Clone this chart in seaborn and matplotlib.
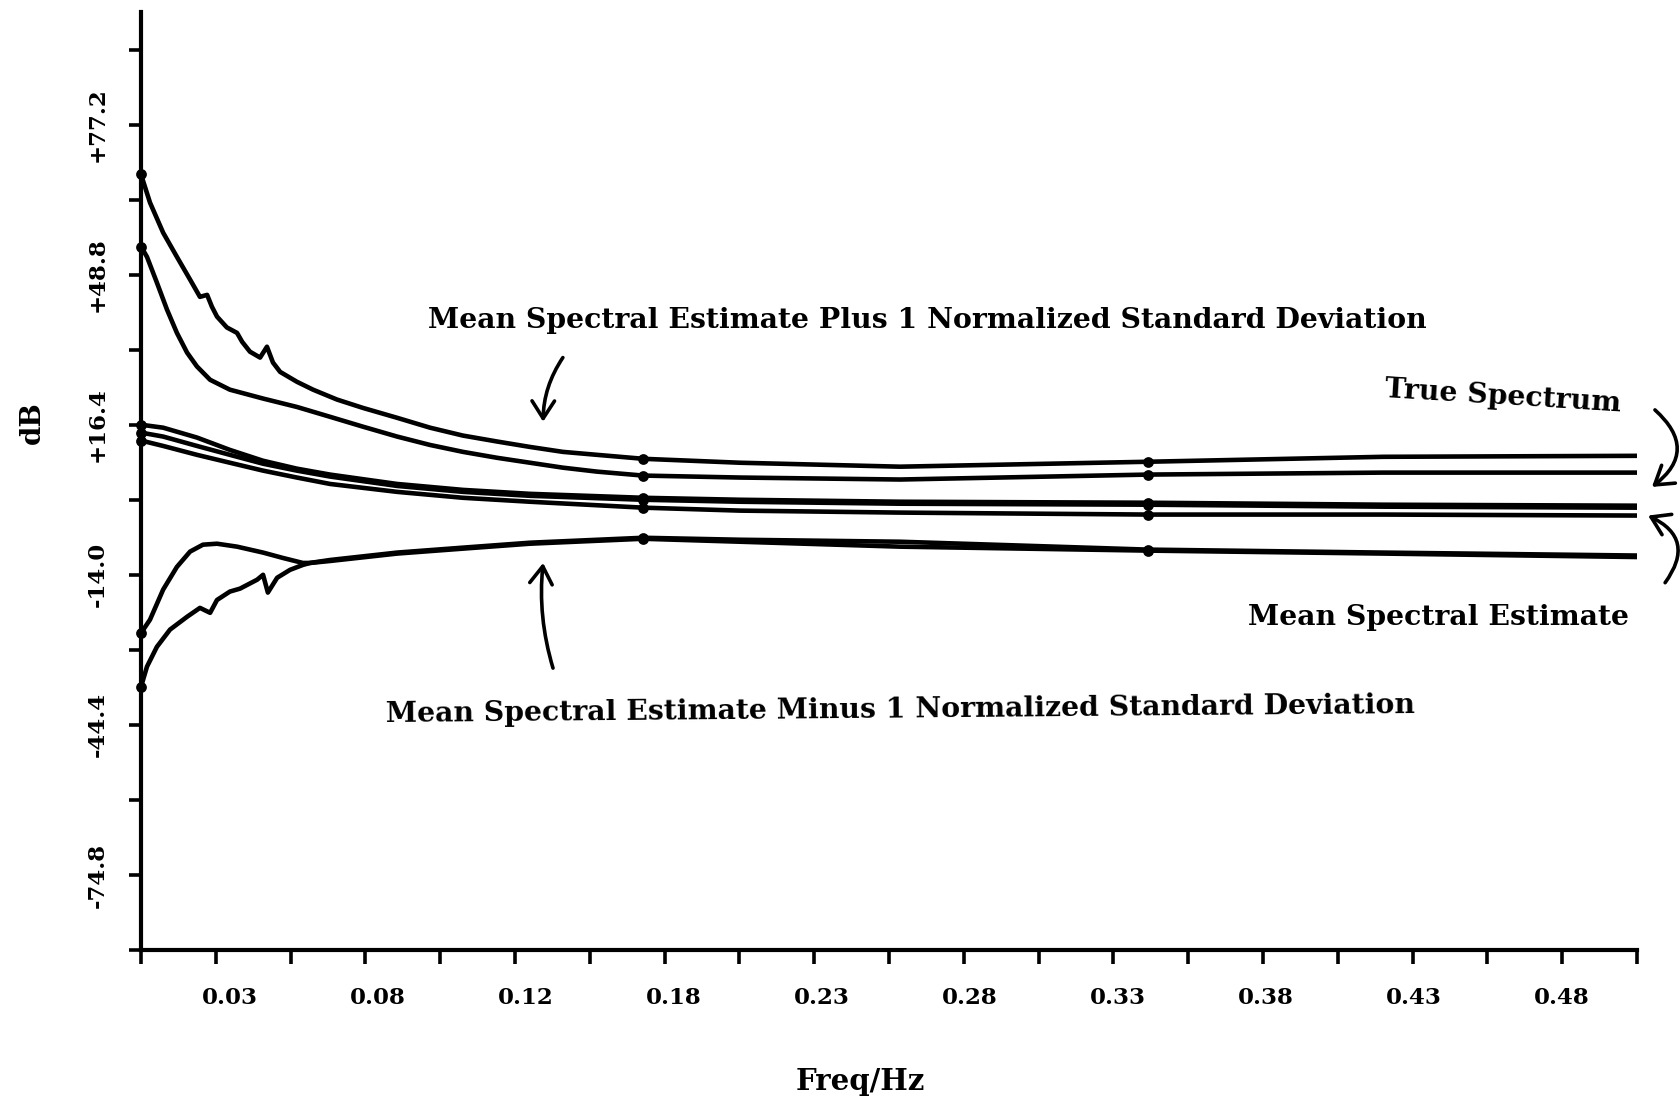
import numpy as np
import pandas as pd
import seaborn as sns
import matplotlib
matplotlib.use("Agg")
import matplotlib.pyplot as plt
from matplotlib.transforms import ScaledTranslation

# ---- spectral curves (frequency in Hz, level in dB) ----
freq_plus_a = [0.0, 0.003, 0.0074, 0.012, 0.0164, 0.0197, 0.0221, 0.0237, 0.0254, 0.0287,
               0.0321, 0.0338, 0.0364, 0.0398, 0.0421, 0.0441, 0.0465, 0.0521, 0.0575, 0.0655,
               0.0742, 0.0856, 0.0966, 0.1076, 0.119, 0.13, 0.141, 0.1524, 0.1678, 0.2002,
               0.2537, 0.3366, 0.4151, 0.5]
db_plus_a = [67.1, 61.4, 55.3, 50.4, 45.8, 42.3, 42.7, 40.3, 38.3, 36.1,
             35.0, 33.2, 31.2, 30.0, 32.2, 29.0, 27.1, 25.1, 23.5, 21.5,
             19.8, 17.8, 15.8, 14.2, 13.0, 11.9, 10.9, 10.3, 9.5, 8.7,
             7.9, 8.9, 9.9, 10.1]

freq_plus_b = [0.0, 0.002, 0.0053, 0.0087, 0.012, 0.0154, 0.0187, 0.0231, 0.0297, 0.0408,
               0.0521, 0.0632, 0.0742, 0.0856, 0.0966, 0.1076, 0.119, 0.13, 0.141, 0.1524,
               0.1678, 0.2002, 0.2537, 0.3366, 0.4151, 0.5]
db_plus_b = [52.5, 50.4, 45.2, 39.7, 35.0, 31.0, 28.2, 25.5, 23.5, 21.7,
             20.0, 18.0, 16.0, 14.0, 12.3, 10.9, 9.7, 8.7, 7.7, 6.9,
             6.1, 5.7, 5.3, 6.3, 6.7, 6.7]

freq_true = [0.0, 0.0074, 0.0187, 0.0297, 0.0408, 0.0521, 0.0632, 0.0856, 0.1076, 0.13,
             0.1678, 0.2002, 0.2537, 0.3366, 0.4151, 0.5]
db_true = [16.4, 15.8, 13.8, 11.3, 9.1, 7.5, 6.3, 4.4, 3.2, 2.4,
           1.6, 1.2, 0.8, 0.6, 0.2, 0.0]

freq_mean_a = freq_true
db_mean_a = [14.8, 14.0, 12.1, 10.3, 8.5, 7.1, 5.9, 4.0, 2.8, 2.0,
             1.2, 0.8, 0.4, 0.2, -0.2, -0.4]

freq_mean_b = freq_true
db_mean_b = [13.2, 12.1, 10.3, 8.7, 7.1, 5.7, 4.4, 2.8, 1.6, 0.8,
             -0.4, -1.0, -1.4, -1.8, -1.8, -2.0]

freq_minus_a = [0.0, 0.003, 0.0074, 0.012, 0.0164, 0.0207, 0.0254, 0.0321, 0.0408, 0.0475,
                0.0541, 0.0565, 0.0632, 0.0856, 0.1076, 0.13, 0.1678, 0.2002, 0.2537, 0.3366,
                0.4151, 0.5]
db_minus_a = [-25.8, -23.1, -17.0, -12.4, -9.3, -7.9, -7.7, -8.3, -9.5, -10.6,
              -11.6, -11.6, -11.0, -9.5, -8.5, -7.5, -6.5, -6.9, -7.3, -8.9,
              -9.5, -10.1]

freq_minus_b = [0.0, 0.002, 0.0053, 0.0097, 0.0154, 0.0197, 0.0231, 0.0254, 0.0297, 0.0331,
                0.0388, 0.0408, 0.0424, 0.0455, 0.0498, 0.0541, 0.0565, 0.0632, 0.0856, 0.1076,
                0.13, 0.1678, 0.2002, 0.2537, 0.3366, 0.4151, 0.5]
db_minus_b = [-36.7, -32.6, -28.6, -25.1, -22.5, -20.7, -21.7, -19.1, -17.4, -16.8,
              -15.0, -14.0, -17.6, -14.6, -13.0, -12.0, -11.6, -11.2, -9.7, -8.7,
              -7.7, -6.7, -7.3, -8.3, -9.1, -9.7, -10.4]

# frequencies at which each curve carries a dot
marker_freqs = [0.0, 0.1678, 0.3366]

# ---- axis ticks ----
x_ticks = [i * 0.025 for i in range(21)]
x_ticklabels = ["", "0.03", "", "0.08", "", "0.12", "", "0.18", "", "0.23", "",
                "0.28", "", "0.33", "", "0.38", "", "0.43", "", "0.48", ""]
y_ticks = [-90.0 + 15.2 * k for k in range(13)]
y_ticklabels = ["", "-74.8", "", "-44.4", "", "-14.0", "", "+16.4", "", "+48.8", "",
                "+77.2", ""]

# ---- annotations ----
note_plus = "Mean Spectral Estimate Plus 1 Normalized Standard Deviation"
note_true = "True Spectrum"
note_mean = "Mean Spectral Estimate"
note_minus = "Mean Spectral Estimate Minus 1 Normalized Standard Deviation"

curves = [
    ("plus_a", freq_plus_a, db_plus_a),
    ("plus_b", freq_plus_b, db_plus_b),
    ("true", freq_true, db_true),
    ("mean_a", freq_mean_a, db_mean_a),
    ("mean_b", freq_mean_b, db_mean_b),
    ("minus_a", freq_minus_a, db_minus_a),
    ("minus_b", freq_minus_b, db_minus_b),
]
df = pd.concat(
    [pd.DataFrame({"curve": name, "freq": f, "db": d}) for name, f, d in curves],
    ignore_index=True,
)

sns.set_theme(style="white")
plt.rcParams["font.family"] = ["DejaVu Serif"]
plt.rcParams["font.weight"] = "bold"
plt.rcParams["axes.labelweight"] = "bold"
plt.rcParams["text.color"] = "black"
plt.rcParams["axes.labelcolor"] = "black"

fig = plt.figure(figsize=(16.8, 11.01), dpi=100)
ax = fig.add_axes([141 / 1680, 1 - 950 / 1101, 1496 / 1680, 938 / 1101])

for name, group in df.groupby("curve", sort=False):
    sns.lineplot(data=group, x="freq", y="db", ax=ax, color="black", lw=3.3,
                 sort=False, estimator=None, legend=False,
                 solid_capstyle="round", solid_joinstyle="round")

dots = df[df["freq"].isin(marker_freqs)]
sns.scatterplot(data=dots, x="freq", y="db", ax=ax, color="black", s=60,
                edgecolor="black", linewidth=0, legend=False, clip_on=False, zorder=5)

ax.set_xlim(0, 0.5)
ax.set_ylim(-90, 100)

for side in ("top", "right"):
    ax.spines[side].set_visible(False)
for side in ("left", "bottom"):
    ax.spines[side].set_linewidth(3.0)
    ax.spines[side].set_color("black")

ax.set_xticks(x_ticks)
ax.set_xticklabels(x_ticklabels)
ax.set_yticks(y_ticks)
ax.set_yticklabels(y_ticklabels)
ax.tick_params(axis="x", bottom=True, direction="out", length=10, width=2.6, pad=17,
               labelsize=16.5, colors="black")
ax.tick_params(axis="y", left=True, direction="out", length=9, width=2.6, pad=14,
               labelsize=16.5, colors="black")

for lbl in ax.get_yticklabels():
    lbl.set_rotation(90)
    lbl.set_va("center")

# nudge the printed frequency labels the way the plotter set them
labelled = [i for i, t in enumerate(x_ticklabels) if t]
for n, i in enumerate(labelled):
    lbl = ax.get_xticklabels()[i]
    dx = (14.2 - 1.6 * n) / 100.0
    lbl.set_transform(lbl.get_transform() + ScaledTranslation(dx, 0, fig.dpi_scale_trans))

ax.set_xlabel("Freq/Hz", fontsize=21, fontweight="bold", va="center", color="black")
ax.xaxis.set_label_coords(0.4806, -0.1407)
ax.set_ylabel("dB", fontsize=20, fontweight="bold", va="center", color="black")
ax.yaxis.set_label_coords(-0.0729, 0.562)

text_kw = dict(fontsize=20.3, fontweight="bold", ha="center", va="center", color="black")
ax.text(0.2627, 37.5, note_plus, **text_kw)
ax.text(0.4552, 22.1, note_true, rotation=-3.5, clip_on=False, **text_kw)
ax.text(0.4335, -22.7, note_mean, clip_on=False, **text_kw)
ax.text(0.2537, -41.4, note_minus, rotation=0.5, **text_kw)

arrow_kw = dict(arrowstyle="->,head_length=0.7,head_width=0.45", color="black", lw=2.6,
                mutation_scale=18, shrinkA=0, shrinkB=0)
ax.annotate("", xy=(0.1344, 17.0), xytext=(0.1410, 30.0),
            arrowprops=dict(connectionstyle="arc3,rad=0.15", **arrow_kw))
ax.annotate("", xy=(0.1344, -11.6), xytext=(0.1377, -32.9),
            arrowprops=dict(connectionstyle="arc3,rad=-0.1", **arrow_kw))
ax.annotate("", xy=(0.505, 3.8), xytext=(0.506, 19.4), annotation_clip=False,
            arrowprops=dict(connectionstyle="arc3,rad=-0.6", **arrow_kw))
ax.annotate("", xy=(0.5037, -2.0), xytext=(0.5094, -15.6), annotation_clip=False,
            arrowprops=dict(connectionstyle="arc3,rad=0.6", **arrow_kw))

fig.savefig("out.png", dpi=100, facecolor="white")
